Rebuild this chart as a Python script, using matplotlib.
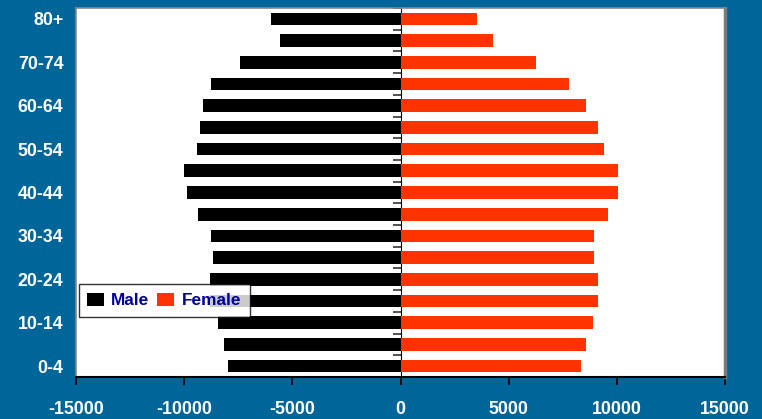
import numpy as np
import matplotlib.pyplot as plt

plt.rcParams['font.family'] = ['Liberation Sans', 'DejaVu Sans']

age_groups = ["0-4", "5-9", "10-14", "15-19", "20-24", "25-29", "30-34", "35-39",
              "40-44", "45-49", "50-54", "55-59", "60-64", "65-69", "70-74", "75-79", "80+"]
male = [-7980, -8170, -8450, -8800, -8820, -8680, -8770, -9370,
        -9880, -10010, -9420, -9280, -9140, -8770, -7430, -5580, -6000]
female = [8350, 8580, 8910, 9140, 9140, 8950, 8950, 9600,
          10060, 10060, 9410, 9140, 8580, 7800, 6280, 4290, 3550]
x_ticks = [-15000, -10000, -5000, 0, 5000, 10000, 15000]

bg = '#006699'
fs = 12.8
fig = plt.figure(figsize=(7.62, 4.19), dpi=100, facecolor=bg)
ax = fig.add_axes([76 / 762, 1 - 377 / 419, 649 / 762, 369 / 419])
ax.set_facecolor('white')

y = np.arange(len(age_groups))
ax.barh(y, male, height=0.58, color='black', label='Male')
ax.barh(y, female, height=0.58, color='#ff3300', label='Female')

ax.set_xlim(-15000, 15000)
ax.set_ylim(-0.5, len(age_groups) - 0.5)

# labels on every other age group, no ticks on the frame
ax.set_yticks(y[::2])
ax.set_yticklabels(age_groups[::2])
ax.tick_params(axis='y', length=0, pad=9, labelcolor='white', labelsize=fs)
for t in ax.get_yticklabels():
    t.set_fontweight('bold')

ax.set_xticks(x_ticks)
ax.set_xticklabels([str(v) for v in x_ticks])
ax.tick_params(axis='x', direction='out', length=6, width=1.2, color='black',
               pad=11, labelcolor='white', labelsize=fs)
for t in ax.get_xticklabels():
    t.set_fontweight('bold')

for side in ['top', 'left']:
    ax.spines[side].set_color('#888888')
    ax.spines[side].set_linewidth(1.2)
ax.spines['right'].set_color('#7a7a7a')
ax.spines['right'].set_linewidth(2.5)
ax.spines['bottom'].set_color('black')
ax.spines['bottom'].set_linewidth(1.5)

# vertical axis through zero with ticks between age groups
zax = ax.secondary_yaxis(0.5)
zax.spines['left'].set_color('#333333')
zax.spines['left'].set_linewidth(1.5)
zax.set_yticks(np.arange(len(age_groups) + 1) - 0.5)
zax.set_yticklabels([])
zax.tick_params(axis='y', direction='in', length=6, width=1.2, color='#333333')

leg = ax.legend(loc='lower left', bbox_to_anchor=(0.004, 0.163), ncol=2,
                frameon=True, fancybox=False, borderaxespad=0,
                handlelength=0.95, handleheight=0.8,
                handletextpad=0.45, columnspacing=0.45, borderpad=0.5,
                prop={'weight': 'bold', 'size': 12.4})
leg.get_frame().set_edgecolor('black')
leg.get_frame().set_linewidth(1.0)
for t in leg.get_texts():
    t.set_color('#000099')

fig.savefig('out.png', dpi=100, facecolor=bg)
